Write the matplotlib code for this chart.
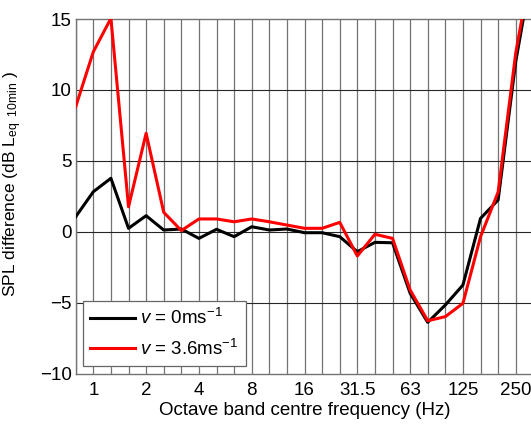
import matplotlib
matplotlib.use('Agg')
import matplotlib.pyplot as plt
import numpy as np

plt.rcParams['font.family'] = ['Liberation Sans', 'DejaVu Sans']
plt.rcParams['mathtext.fontset'] = 'custom'
plt.rcParams['mathtext.rm'] = 'Liberation Sans'
plt.rcParams['mathtext.it'] = 'Liberation Sans:italic'

# one-third octave bands, 0.8 Hz .. 315 Hz (band index -1 .. 25)
bands = ['0.8', '1', '1.25', '1.6', '2', '2.5', '3.15', '4', '5', '6.3', '8', '10',
         '12.5', '16', '20', '25', '31.5', '40', '50', '63', '80', '100', '125',
         '160', '200', '250', '315']
tick_labels = ['1', '2', '4', '8', '16', '31.5', '63', '125', '250']

spl_still = [1.06, 2.82, 3.77, 0.24, 1.13, 0.12, 0.19, -0.47, 0.17, -0.35, 0.35,
             0.12, 0.19, -0.07, -0.07, -0.35, -1.41, -0.75, -0.78, -4.34, -6.39,
             -5.17, -3.76, 0.94, 2.24, 12.0, 19.0]
spl_wind = [8.82, 12.69, 15.05, 1.76, 6.94, 1.37, 0.08, 0.9, 0.9, 0.7, 0.9, 0.7,
            0.47, 0.24, 0.24, 0.66, -1.71, -0.18, -0.47, -4.11, -6.28, -5.99,
            -5.05, -0.35, 2.8, 12.6, 19.5]

idx = np.arange(len(bands)) - 1

fig = plt.figure(figsize=(5.31, 4.24), dpi=100)
ax = fig.add_axes([0.1426, 0.1191, 0.8618, 0.836])

ax.plot(idx, spl_still, color='black', lw=2.2, label='$v$ = 0ms$^{-1}$', zorder=3)
ax.plot(idx, spl_wind, color='#ff0000', lw=2.2, label='$v$ = 3.6ms$^{-1}$', zorder=3)

ax.set_xlim(-1, 25)
ax.set_ylim(-10, 15)
ax.set_yticks([-10, -5, 0, 5, 10, 15])
ax.set_xticks([bands.index(t) - 1 for t in tick_labels])
ax.set_xticklabels(tick_labels)

for i in idx:
    ax.axvline(i, color='0.45', lw=0.9, zorder=1)
for y in [-5, 0, 5, 10]:
    ax.axhline(y, color='0.15', lw=0.8, zorder=1)

for s in ax.spines.values():
    s.set_color('0.45')
    s.set_linewidth(1.0)
ax.tick_params(axis='x', direction='in', length=0, labelsize=13.5, pad=6)
ax.tick_params(axis='y', direction='in', length=0, labelsize=13.5, pad=3)

ax.set_xlabel('Octave band centre frequency (Hz)', fontsize=13.5, labelpad=2)
ax.set_ylabel('SPL difference (dB L$_{\\mathrm{eq}\\ \\ \\mathrm{10min}}$ )',
              fontsize=12.5)
ax.yaxis.set_label_coords(-0.114, 0.535)

leg = ax.legend(loc='lower left', fontsize=13.5, fancybox=False, framealpha=1,
                edgecolor='0.4', borderpad=0.4, handlelength=2.4,
                handletextpad=0.25, labelspacing=0.55, borderaxespad=0,
                bbox_to_anchor=(0.0154, 0.021))
leg.get_frame().set_linewidth(0.9)

fig.savefig('out.png', dpi=100)
